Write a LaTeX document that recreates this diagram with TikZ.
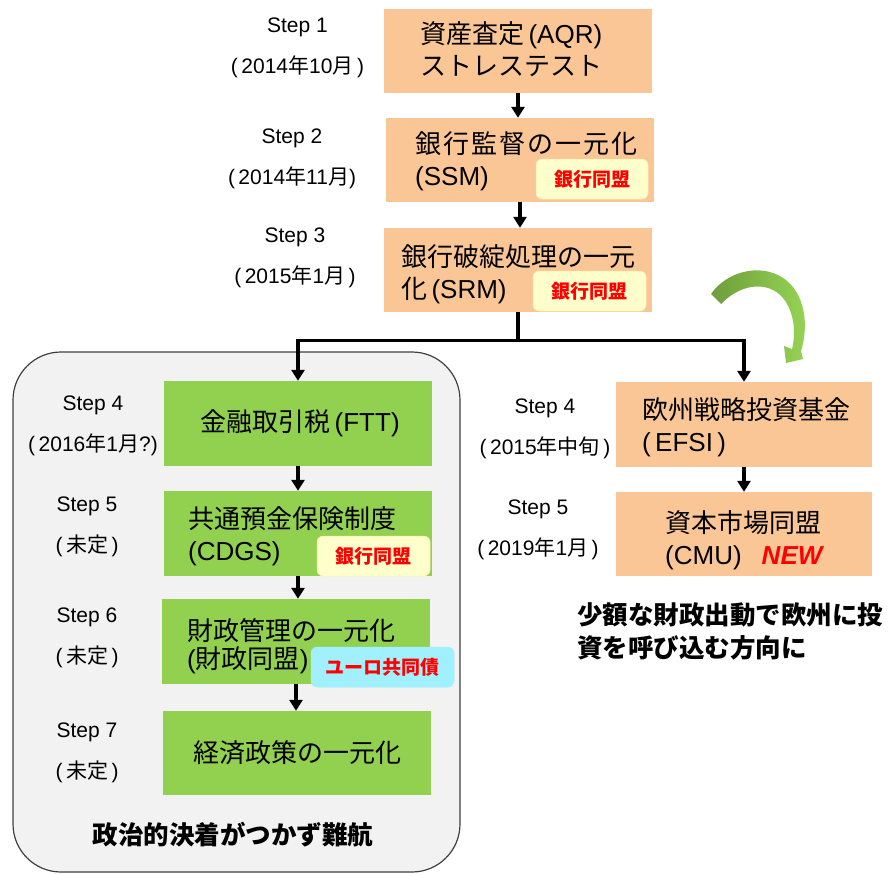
\documentclass[tikz,border=0pt]{standalone}
\usepackage{fontspec}
\setmainfont{Liberation Sans}
\newfontfamily\jpfont{Noto Sans CJK JP}
\usetikzlibrary{arrows.meta}
\newcommand\JP[1]{{\jpfont #1}}
\definecolor{boxorange}{RGB}{251,198,150}
\definecolor{boxgreen}{RGB}{146,208,80}
\definecolor{badgeyellow}{RGB}{255,255,204}
\definecolor{badgecyan}{RGB}{160,240,255}
\definecolor{grpfill}{RGB}{242,242,242}
\definecolor{grpline}{RGB}{64,64,64}
\definecolor{arrowdark}{RGB}{108,158,58}
\definecolor{arrowlight}{RGB}{150,212,84}
\begin{document}
\begin{tikzpicture}[x=1pt,y=-1pt,
  obox/.style={fill=boxorange, minimum width=268pt, minimum height=84pt, inner sep=0pt},
  gbox/.style={fill=boxgreen, minimum width=268pt, minimum height=85pt, inner sep=0pt},
  badge/.style={rounded corners=6pt, minimum height=40pt, inner sep=0pt,
    font=\fontsize{19}{19}\selectfont\jpfont\bfseries, text=red,
    fill=badgeyellow, draw=badgeyellow!85!orange, line width=0.5pt},
  boxtext/.style={inner sep=0pt, align=left, anchor=west, font=\fontsize{26}{32}\selectfont},
  steplab/.style={inner sep=0pt, align=center, font=\fontsize{21}{41}\selectfont},
  conn/.style={line width=3.2pt},
  arr/.style={line width=3.2pt, -{Triangle[width=13pt,length=11pt]}},
  note/.style={inner sep=0pt, align=left, font=\fontsize{25.5}{33}\selectfont\jpfont\bfseries}
]
\useasboundingbox (0,0) rectangle (889,873);

% group container
\node[draw=grpline, fill=grpfill, line width=1.2pt, rounded corners=48pt,
  minimum width=447pt, minimum height=520pt, inner sep=0pt] (grp) at (236.5,612) {};

% top chain
\node[obox] (b1) at (518,51) {};
\node[boxtext] (t1) at (420,49) {\JP{資産査定}\,(AQR)\\\JP{ストレステスト}};
\node[obox] (b2) at (520,160) {};
\node[boxtext] (t2) at (415,161) {{\jpfont\addfontfeature{LetterSpace=8}銀行監督の一元化}\\(SSM)};
\node[badge, minimum width=112pt] (bg2) at (592,179) {銀行同盟};
\node[obox] (b3) at (518,270) {};
\node[boxtext] (t3) at (401,274) {\JP{銀行破綻処理の一元}\\\JP{化}\,(SRM)};
\node[badge, minimum width=113pt] (bg3) at (589.5,291) {銀行同盟};

% left chain
\node[gbox] (g4) at (298,423.5) {};
\node[boxtext, anchor=center] (tg4) at (300,423) {\JP{金融取引税}\,(FTT)};
\node[gbox] (g5) at (298,533.5) {};
\node[boxtext] (tg5) at (188,536) {\JP{共通預金保険制度}\\(CDGS)};
\node[badge, minimum width=113pt] (bg5) at (373.5,556) {銀行同盟};
\node[gbox] (g6) at (296,641.5) {};
\node[boxtext, font=\fontsize{26}{28}\selectfont] (tg6) at (187,646) {\JP{財政管理の一元化}\\(\JP{財政同盟})};
\node[badge, fill=badgecyan, draw=badgecyan, minimum width=143pt] (bg6) at (382.5,667) {ユーロ共同債};
\node[gbox, minimum height=84pt] (g7) at (297,753) {};
\node[boxtext, anchor=center] (tg7) at (297.5,753) {\JP{経済政策の一元化}};

% right chain
\node[obox, minimum width=256pt, minimum height=85pt] (r4) at (744,424.5) {};
\node[boxtext] (tr4) at (642,427.5) {\JP{欧州戦略投資基金}\\(\,EFSI\,)};
\node[obox, minimum width=256pt] (r5) at (744,534) {};
\node[boxtext] (tr5) at (665,540) {\JP{資本市場同盟}\\(CMU)\hspace{20pt}{\color{red}\bfseries\itshape NEW}};

% step labels
\node[steplab] (s1) at (297.5,47.5) {Step 1\\(\,2014\JP{年}10\JP{月}\,)};
\node[steplab] (s2) at (292,159) {Step 2\\(\,2014\JP{年}11\JP{月})};
\node[steplab] (s3) at (295,258) {Step 3\\(\,2015\JP{年}1\JP{月}\,)};
\node[steplab] (s4) at (93,426) {Step 4\\(\,2016\JP{年}1\JP{月}?)};
\node[steplab] (s5) at (87,527) {Step 5\\(\,\JP{未定}\,)};
\node[steplab] (s6) at (87,637.5) {Step 6\\(\,\JP{未定}\,)};
\node[steplab] (s7) at (87,753) {Step 7\\(\,\JP{未定}\,)};
\node[steplab] (s8) at (545,429) {Step 4\\(\,2015\JP{年中旬}\,)};
\node[steplab] (s9) at (538,530) {Step 5\\(\,2019\JP{年}1\JP{月}\,)};

% notes
\node[note, anchor=west] (n1) at (577,631.5) {少額な財政出動で欧州に投\\資を呼び込む方向に};
\node[note] (n2) at (233,835) {政治的決着がつかず難航};

% connectors
\draw[arr] (b1.south) -- (b1.south |- b2.north);
\draw[arr] (b2.south) -- (b2.south |- b3.north);
\draw[conn] (b3.south) -- ++(0,28) coordinate (jn);
\draw[arr] (jn) -| (g4.north);
\draw[arr] (jn) -| (r4.north);
\draw[arr] (g4.south) -- (g5.north);
\draw[arr] (g5.south) -- (g5.south |- g6.north);
\draw[arr] (g6.south) -- (g6.south |- g7.north);
\draw[arr] (r4.south) -- (r5.north);

% green curved arrow
\shade[left color=arrowdark, right color=arrowlight]
  (711,294) .. controls (732,264) and (782,260) .. (799,297)
  .. controls (807,314) and (806,335) .. (801,351)
  -- (803,359) -- (786,363) -- (784,346) -- (792,349)
  .. controls (796,333) and (794,315) .. (786,302)
  .. controls (772,280) and (742,282) .. (721,304) -- cycle;
\end{tikzpicture}
\end{document}
